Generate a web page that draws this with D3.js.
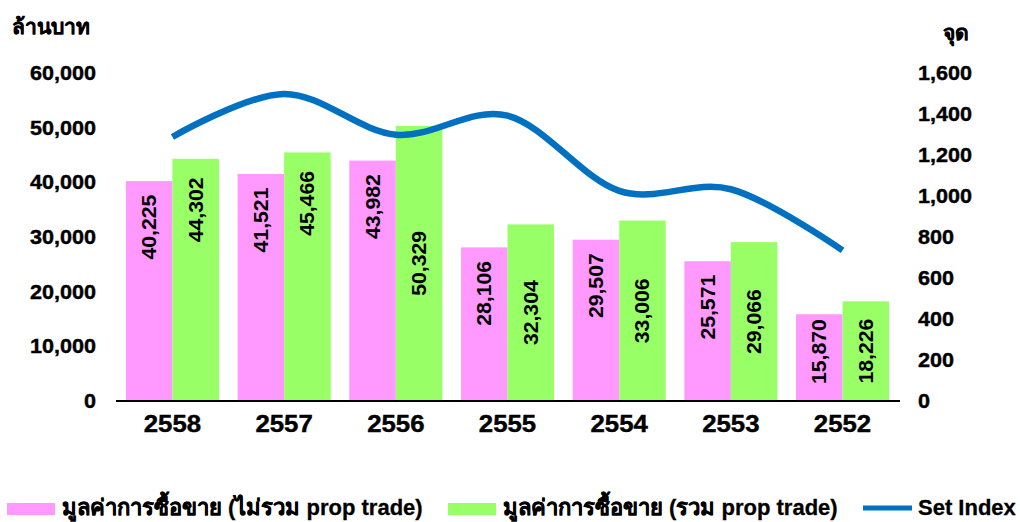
<!DOCTYPE html>
<html>
<head>
<meta charset="utf-8">
<script src="https://cdn.jsdelivr.net/npm/d3@7"></script>
<style>
  body { margin: 0; background: #fff; }
  svg { display: block; font-family: "Liberation Sans", Arial, sans-serif; }
  .tick-label { font-size: 20px; font-weight: bold; fill: #000; stroke: #000; stroke-width: 0.4px; }
  .year-label { font-size: 23px; font-weight: bold; fill: #000; stroke: #000; stroke-width: 0.4px; }
  .title-label { font-size: 21px; font-weight: bold; fill: #000; stroke: #000; stroke-width: 0.3px; }
  .bar-label { font-size: 20px; font-weight: bold; fill: #000; }
  .legend-label { font-size: 22px; font-weight: bold; fill: #000; stroke: #000; stroke-width: 0.3px; }
</style>
</head>
<body>
<svg id="chart" width="1020" height="522"></svg>
<script>
// data
const years = ["2558", "2557", "2556", "2555", "2554", "2553", "2552"];
const value_excl_prop = [40225, 41521, 43982, 28106, 29507, 25571, 15870];
const value_incl_prop = [44302, 45466, 50329, 32304, 33006, 29066, 18226];
const set_index = [1288, 1498, 1299, 1392, 1025, 1033, 735];

const left_ticks = [0, 10000, 20000, 30000, 40000, 50000, 60000];
const right_ticks = [0, 200, 400, 600, 800, 1000, 1200, 1400, 1600];

const series_names = [
  "มูลค่าการซื้อขาย (ไม่รวม prop trade)",
  "มูลค่าการซื้อขาย (รวม prop trade)",
  "Set Index"
];
const colors = ["#ff99ff", "#99ff66", "#0070c0"];

// green labels that sit near the top of the bar instead of the middle
const green_top_labels = ["2558", "2557"];

const svg = d3.select("#chart");
const fmt = d3.format(",");

const marginLeft = 116, marginRight = 899;
const yTop = 73, yBottom = 401;

// the source picture is a little stretched sideways, so widen text to match
function stretch(sel, f) {
  sel.each(function () {
    const w = this.getComputedTextLength();
    d3.select(this).attr("textLength", w * f).attr("lengthAdjust", "spacingAndGlyphs");
  });
}

const x = d3.scaleBand()
  .domain(years)
  .range([marginLeft, marginRight])
  .paddingInner(0.167)
  .paddingOuter(0.089);

const sub = d3.scaleBand()
  .domain([0, 1])
  .range([0, x.bandwidth()]);

const yL = d3.scaleLinear().domain([0, 60000]).range([yBottom, yTop]);
const yR = d3.scaleLinear().domain([0, 1600]).range([yBottom, yTop]);

// left axis labels
svg.append("g").selectAll("text")
  .data(left_ticks)
  .enter().append("text")
  .attr("class", "tick-label")
  .attr("x", 96)
  .attr("y", d => yL(d))
  .attr("dy", "0.35em")
  .attr("text-anchor", "end")
  .text(d => fmt(d))
  .call(stretch, 1.08);

// right axis labels
svg.append("g").selectAll("text")
  .data(right_ticks)
  .enter().append("text")
  .attr("class", "tick-label")
  .attr("x", 918)
  .attr("y", d => yR(d))
  .attr("dy", "0.35em")
  .attr("text-anchor", "start")
  .text(d => fmt(d))
  .call(stretch, 1.08);

// axis titles
svg.append("text").attr("class", "title-label")
  .attr("x", 12).attr("y", 34).text("ล้านบาท");
svg.append("text").attr("class", "title-label")
  .attr("x", 943).attr("y", 40).text("จุด");

// bars
const groups = svg.append("g").selectAll("g")
  .data(years)
  .enter().append("g")
  .attr("transform", d => `translate(${x(d)},0)`);

const series = [value_excl_prop, value_incl_prop];

series.forEach((vals, s) => {
  groups.append("rect")
    .attr("x", sub(s))
    .attr("y", (d, i) => yL(vals[i]))
    .attr("width", sub.bandwidth())
    .attr("height", (d, i) => yBottom - yL(vals[i]))
    .attr("fill", colors[s]);
});

// bar value labels (rotated)
series.forEach((vals, s) => {
  groups.append("text")
    .attr("class", "bar-label")
    .attr("transform", (d, i) => {
      const cx = sub(s) + sub.bandwidth() / 2;
      const top = yL(vals[i]);
      let cy;
      if (s === 0) {
        cy = top + 14 + 32;
        if (yBottom - top < 100) cy = (top + yBottom) / 2 - 6;
      } else if (green_top_labels.includes(d)) {
        cy = top + 19 + 32;
      } else {
        cy = (top + yBottom) / 2;
      }
      return `translate(${cx},${cy}) rotate(-90)`;
    })
    .attr("text-anchor", "middle")
    .attr("dy", "0.35em")
    .text((d, i) => fmt(vals[i]))
    .call(stretch, 1.06);
});

// x axis line
svg.append("line")
  .attr("x1", marginLeft).attr("x2", 900)
  .attr("y1", yBottom).attr("y2", yBottom)
  .attr("stroke", "#000").attr("stroke-width", 2);

// x labels
svg.append("g").selectAll("text")
  .data(years)
  .enter().append("text")
  .attr("class", "year-label")
  .attr("x", d => x(d) + x.bandwidth() / 2)
  .attr("y", 432)
  .attr("text-anchor", "middle")
  .text(d => d)
  .call(stretch, 1.12);

// set index line
const line = d3.line()
  .x((d, i) => x(years[i]) + x.bandwidth() / 2)
  .y(d => yR(d))
  .curve(d3.curveCardinal.tension(0));

svg.append("path")
  .datum(set_index)
  .attr("d", line)
  .attr("fill", "none")
  .attr("stroke", colors[2])
  .attr("stroke-width", 6.5);

// legend
const legend = [
  { x: 7, type: "rect" },
  { x: 448, type: "rect" },
  { x: 863, type: "line" }
];
const lg = svg.append("g");
legend.forEach((l, i) => {
  if (l.type === "rect") {
    lg.append("rect")
      .attr("x", l.x).attr("y", 503)
      .attr("width", 48).attr("height", 12)
      .attr("fill", colors[i]);
  } else {
    lg.append("line")
      .attr("x1", l.x).attr("x2", l.x + 49)
      .attr("y1", 508).attr("y2", 508)
      .attr("stroke", colors[i]).attr("stroke-width", 5);
  }
  lg.append("text")
    .attr("class", "legend-label")
    .attr("x", l.x + 55)
    .attr("y", 515)
    .text(series_names[i]);
});
</script>
</body>
</html>
